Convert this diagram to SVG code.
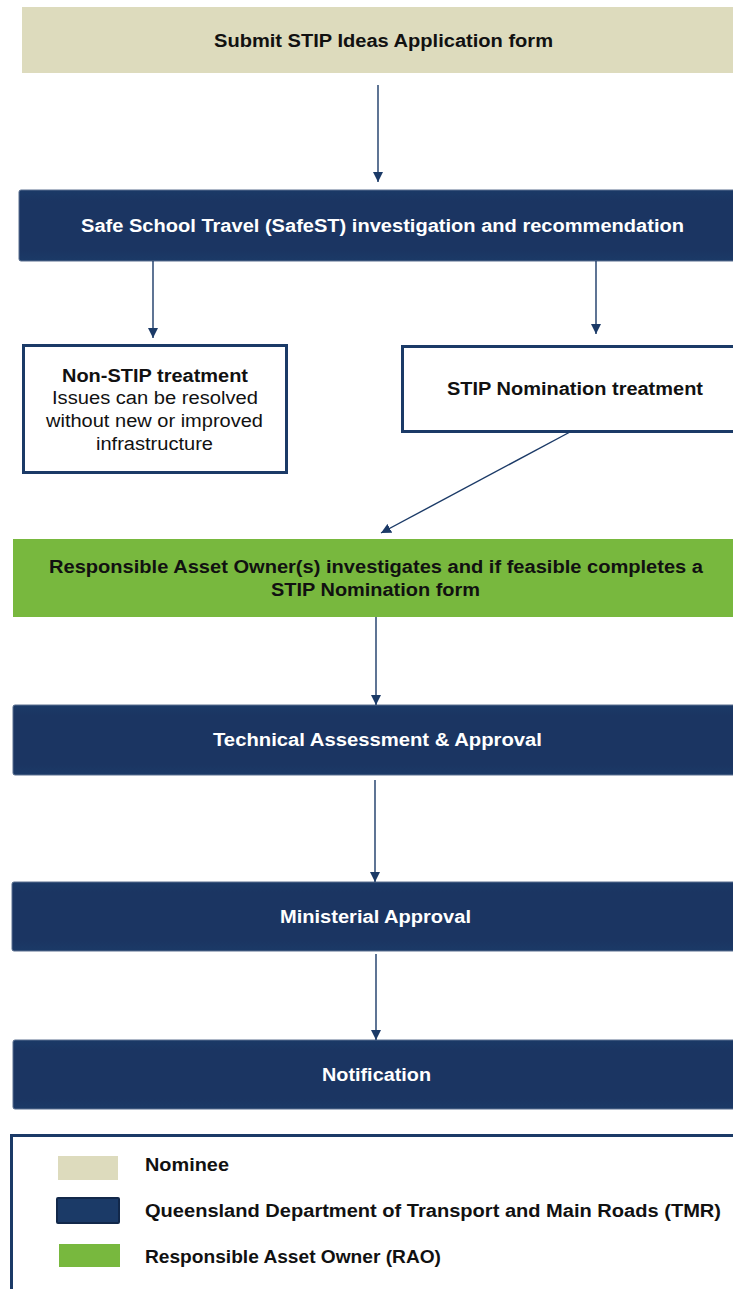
<svg xmlns="http://www.w3.org/2000/svg" width="733" height="1289" viewBox="0 0 733 1289">
<defs>
<linearGradient id="navy" x1="0" y1="0" x2="0" y2="1">
<stop offset="0" stop-color="#1b3a67"/>
<stop offset="0.15" stop-color="#1b3562"/>
<stop offset="0.85" stop-color="#1b3562"/>
<stop offset="1" stop-color="#1b3a67"/>
</linearGradient>
<marker id="ah" viewBox="0 0 10 10" refX="10" refY="5" markerWidth="10" markerHeight="10" markerUnits="userSpaceOnUse" orient="auto">
<path d="M0,0 L10,5 L0,10 z" fill="#1b3a67"/>
</marker>
<style>
text{font-family:"Liberation Sans",Arial,sans-serif;font-size:18px;text-anchor:middle}
.b{font-weight:bold}
.w{fill:#ffffff;font-weight:bold}
.k{fill:#111111}
.navy{fill:url(#navy);stroke:#5a6f8f;stroke-width:1}
.out{fill:#ffffff;stroke:#1b3a67;stroke-width:3}
.conn line{stroke:#1b3a67;stroke-width:1.4;marker-end:url(#ah)}
.lg{text-anchor:start;font-weight:bold;fill:#111111}
</style>
</defs>

<g id="submit">
<rect x="22" y="7" width="720" height="66" fill="#dddbbd"/>
<text class="b k" x="383.5" y="47" textLength="339" lengthAdjust="spacingAndGlyphs">Submit STIP Ideas Application form</text>
</g>

<g id="safest">
<rect class="navy" x="19" y="190" width="720" height="71" rx="2"/>
<text class="w" x="382.5" y="232" textLength="603" lengthAdjust="spacingAndGlyphs">Safe School Travel (SafeST) investigation and recommendation</text>
</g>

<g id="nonstip">
<rect class="out" x="23.5" y="345.5" width="263" height="127"/>
<text class="b k" x="155" y="382" textLength="186" lengthAdjust="spacingAndGlyphs">Non-STIP treatment</text>
<text class="k" x="155" y="404" textLength="206" lengthAdjust="spacingAndGlyphs">Issues can be resolved</text>
<text class="k" x="154.5" y="427" textLength="217" lengthAdjust="spacingAndGlyphs">without new or improved</text>
<text class="k" x="154.5" y="450" textLength="117" lengthAdjust="spacingAndGlyphs">infrastructure</text>
</g>

<g id="stipnom">
<rect class="out" x="402.5" y="346.5" width="340" height="85"/>
<text class="b k" x="575" y="395" textLength="256" lengthAdjust="spacingAndGlyphs">STIP Nomination treatment</text>
</g>

<g id="rao">
<rect x="13" y="539" width="730" height="78" fill="#78b83e"/>
<text class="b k" x="376" y="573" textLength="654" lengthAdjust="spacingAndGlyphs">Responsible Asset Owner(s) investigates and if feasible completes a</text>
<text class="b k" x="375.5" y="596" textLength="209" lengthAdjust="spacingAndGlyphs">STIP Nomination form</text>
</g>

<g id="technical">
<rect class="navy" x="13" y="705" width="730" height="70" rx="2"/>
<text class="w" x="377.5" y="746" textLength="329" lengthAdjust="spacingAndGlyphs">Technical Assessment &amp; Approval</text>
</g>

<g id="ministerial">
<rect class="navy" x="12" y="882" width="730" height="69" rx="2"/>
<text class="w" x="375.5" y="923" textLength="191" lengthAdjust="spacingAndGlyphs">Ministerial Approval</text>
</g>

<g id="notification">
<rect class="navy" x="13" y="1040" width="730" height="69" rx="2"/>
<text class="w" x="376.5" y="1081" textLength="109" lengthAdjust="spacingAndGlyphs">Notification</text>
</g>

<g id="legend">
<rect x="11.5" y="1135.5" width="740" height="170" fill="#ffffff" stroke="#1b3a67" stroke-width="3"/>
<rect x="58" y="1156" width="60" height="24" fill="#dddbbd"/>
<rect x="57" y="1198" width="62" height="25" rx="1" fill="#1b3a67" stroke="#12284a" stroke-width="2"/>
<rect x="59" y="1244" width="61" height="23" fill="#78b83e"/>
<text class="lg" x="145" y="1171" textLength="84" lengthAdjust="spacingAndGlyphs">Nominee</text>
<text class="lg" x="145" y="1217" textLength="576" lengthAdjust="spacingAndGlyphs">Queensland Department of Transport and Main Roads (TMR)</text>
<text class="lg" x="145" y="1263" textLength="296" lengthAdjust="spacingAndGlyphs">Responsible Asset Owner (RAO)</text>
</g>

<g id="connectors" class="conn">
<line x1="378" y1="85" x2="378" y2="182"/>
<line x1="153" y1="261" x2="153" y2="338"/>
<line x1="596" y1="261" x2="596" y2="334"/>
<line x1="570" y1="432" x2="381" y2="533"/>
<line x1="376" y1="617" x2="376" y2="705"/>
<line x1="375" y1="780" x2="375" y2="882"/>
<line x1="376" y1="954" x2="376" y2="1040"/>
</g>
</svg>
